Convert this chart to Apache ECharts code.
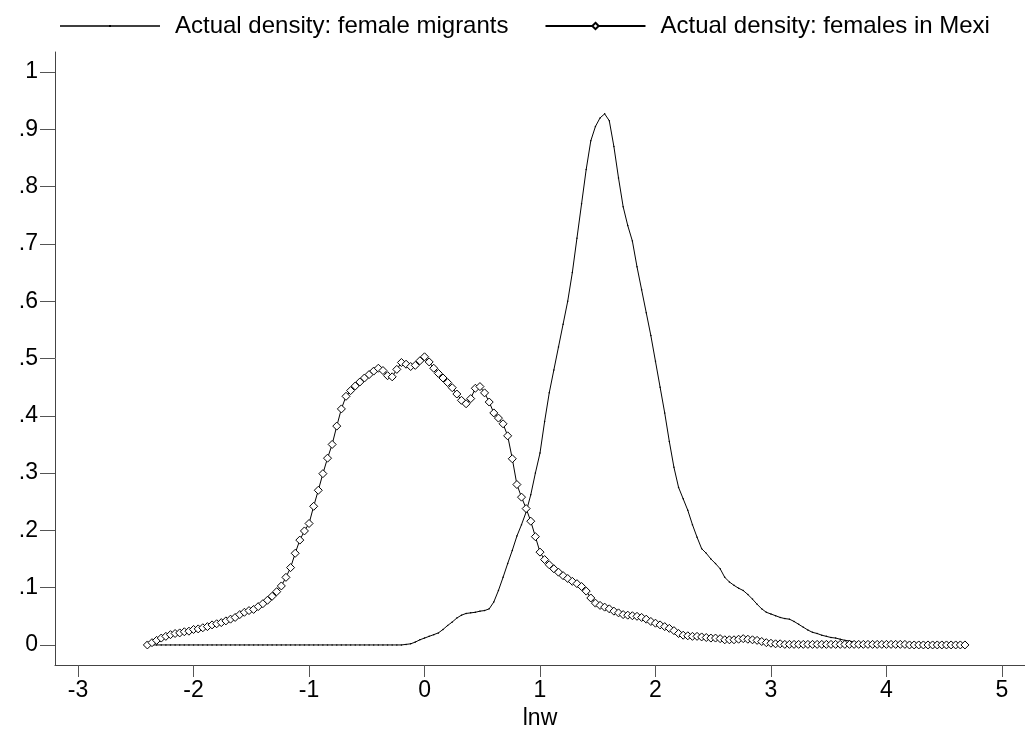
<!DOCTYPE html>
<html>
<head>
<meta charset="utf-8">
<script src="https://cdn.jsdelivr.net/npm/echarts@6/dist/echarts.min.js"></script>
<style>html,body{margin:0;padding:0;background:#fff}#c{width:1025px;height:730px}</style>
</head>
<body>
<div id="c"></div>
<script>
// lnw grid (x values shared by both densities), rows of 10
const lnw = [
 -2.40,-2.36,-2.32,-2.28,-2.24,-2.20,-2.16,-2.12,-2.08,-2.04,
 -2.00,-1.96,-1.92,-1.88,-1.84,-1.80,-1.76,-1.72,-1.68,-1.64,
 -1.60,-1.56,-1.52,-1.48,-1.44,-1.40,-1.36,-1.32,-1.28,-1.24,
 -1.20,-1.16,-1.12,-1.08,-1.04,-1.00,-0.96,-0.92,-0.88,-0.84,
 -0.80,-0.76,-0.72,-0.68,-0.64,-0.60,-0.56,-0.52,-0.48,-0.44,
 -0.40,-0.36,-0.32,-0.28,-0.24,-0.20,-0.16,-0.12,-0.08,-0.04,
 0.00,0.04,0.08,0.12,0.16,0.20,0.24,0.28,0.32,0.36,
 0.40,0.44,0.48,0.52,0.56,0.60,0.64,0.68,0.72,0.76,
 0.80,0.84,0.88,0.92,0.96,1.00,1.04,1.08,1.12,1.16,
 1.20,1.24,1.28,1.32,1.36,1.40,1.44,1.48,1.52,1.56,
 1.60,1.64,1.68,1.72,1.76,1.80,1.84,1.88,1.92,1.96,
 2.00,2.04,2.08,2.12,2.16,2.20,2.24,2.28,2.32,2.36,
 2.40,2.44,2.48,2.52,2.56,2.60,2.64,2.68,2.72,2.76,
 2.80,2.84,2.88,2.92,2.96,3.00,3.04,3.08,3.12,3.16,
 3.20,3.24,3.28,3.32,3.36,3.40,3.44,3.48,3.52,3.56,
 3.60,3.64,3.68,3.72,3.76,3.80,3.84,3.88,3.92,3.96,
 4.00,4.04,4.08,4.12,4.16,4.20,4.24,4.28,4.32,4.36,
 4.40,4.44,4.48,4.52,4.56,4.60,4.64,4.68
];
// Actual density: female migrants
const migrants = [
 0,0,0,0,0,0,0,0,0,0,
 0,0,0,0,0,0,0,0,0,0,
 0,0,0,0,0,0,0,0,0,0,
 0,0,0,0,0,0,0,0,0,0,
 0,0,0,0,0,0,0,0,0,0,
 0,0,0,0,0,0,0.001,0.002,0.005,0.009,
 0.012,0.015,0.018,0.021,0.027,0.034,0.040,0.047,0.052,0.055,
 0.056,0.057,0.059,0.060,0.063,0.075,0.095,0.118,0.142,0.165,
 0.190,0.210,0.232,0.262,0.300,0.335,0.390,0.440,0.480,0.520,
 0.560,0.600,0.650,0.710,0.770,0.830,0.880,0.905,0.920,0.927,
 0.915,0.870,0.815,0.765,0.732,0.705,0.660,0.620,0.580,0.540,
 0.495,0.450,0.405,0.355,0.310,0.275,0.255,0.235,0.210,0.188,
 0.168,0.160,0.150,0.142,0.133,0.118,0.110,0.104,0.099,0.095,
 0.088,0.080,0.071,0.063,0.057,0.054,0.051,0.048,0.046,0.045,
 0.041,0.036,0.031,0.026,0.022,0.020,0.017,0.015,0.013,0.012,
 0.010,0.008,0.007,0.005,0.004,0.003,0.003,0.002,0.002,0.001,
 0.001,0.001,0.001,0.001,0,0,0,0,0,0,
 0,0,0,0,0,0,0,0
];
// Actual density: females in Mexico
const mexico = [
 0.000,0.004,0.008,0.012,0.015,0.018,0.020,0.021,0.023,0.024,
 0.027,0.028,0.030,0.032,0.035,0.037,0.039,0.042,0.045,0.048,
 0.053,0.057,0.060,0.062,0.067,0.072,0.078,0.085,0.093,0.103,
 0.118,0.135,0.160,0.183,0.199,0.212,0.242,0.270,0.299,0.326,
 0.350,0.382,0.412,0.434,0.444,0.452,0.459,0.466,0.472,0.478,
 0.483,0.479,0.470,0.468,0.481,0.493,0.490,0.486,0.488,0.496,
 0.503,0.494,0.483,0.474,0.466,0.458,0.449,0.438,0.427,0.421,
 0.430,0.448,0.451,0.440,0.424,0.405,0.396,0.386,0.365,0.325,
 0.280,0.258,0.238,0.216,0.189,0.162,0.149,0.140,0.133,0.127,
 0.121,0.116,0.111,0.107,0.102,0.094,0.082,0.073,0.069,0.066,
 0.063,0.059,0.056,0.053,0.052,0.051,0.050,0.048,0.045,0.041,
 0.038,0.035,0.032,0.029,0.025,0.020,0.017,0.016,0.015,0.015,
 0.014,0.013,0.012,0.012,0.011,0.009,0.009,0.009,0.010,0.011,
 0.010,0.009,0.008,0.006,0.004,0.003,0.002,0.002,0.001,0.001,
 0.001,0.001,0.001,0.001,0.001,0.001,0.001,0.001,0.001,0.001,
 0.001,0.001,0.001,0.001,0.001,0.001,0.001,0.001,0.001,0.001,
 0.001,0.001,0.001,0.001,0.001,0.000,0.000,0.000,0.000,0.000,
 0.000,0.000,0.000,0.000,0.000,0.000,0.000,0.000
];
const xTicks = [-3,-2,-1,0,1,2,3,4,5];
const yTicks = [0,0.1,0.2,0.3,0.4,0.5,0.6,0.7,0.8,0.9,1];
const seriesNames = ['Actual density: female migrants','Actual density: females in Mexi'];

const FONT = 'Liberation Sans, Arial, Helvetica, sans-serif';
const chart = echarts.init(document.getElementById('c'), null, {renderer:'canvas'});
const pairs = ys => lnw.map((x,i)=>[x, ys[i]]);
const fmtY = v => { if (v===0) return '0'; if (Math.abs(v-1)<1e-9) return '1'; return String(Math.round(v*10)/10).replace(/^0/,''); };

chart.setOption({
  animation:false,
  backgroundColor:'#fff',
  textStyle:{fontFamily:FONT},
  legend:{
    left:55, top:9,
    itemWidth:100, itemHeight:8, itemGap:36,
    textStyle:{fontSize:24, color:'#000', fontFamily:FONT, padding:[0,0,0,10]},
    data:[
      {name:seriesNames[0], icon:'path://M0,0.3H100V1.7H0Z M49,0H51V2H49Z'},
      {name:seriesNames[1]}
    ]
  },
  grid:{left:55, right:0, top:52, bottom:65, containLabel:false, outerBoundsMode:'none'},
  xAxis:{
    type:'value', min:-3.2, max:5.2,
    name:'lnw', nameLocation:'middle', nameGap:38,
    nameTextStyle:{fontSize:23, color:'#000', fontFamily:FONT},
    axisLine:{show:true, onZero:false, lineStyle:{color:'#444', width:1}},
    axisTick:{show:true, inside:false, length:12, customValues:xTicks, lineStyle:{color:'#555'}},
    axisLabel:{customValues:xTicks, fontSize:23, color:'#000', margin:14, fontFamily:FONT},
    splitLine:{show:false}
  },
  yAxis:{
    type:'value', min:-0.035, max:1.035,
    axisLine:{show:true, onZero:false, lineStyle:{color:'#444', width:1}},
    axisTick:{show:true, inside:false, length:15, customValues:yTicks, lineStyle:{color:'#555'}},
    axisLabel:{customValues:yTicks, fontSize:23, color:'#000', margin:17, fontFamily:FONT, formatter:fmtY},
    splitLine:{show:false}
  },
  series:[
    {
      name:seriesNames[0], type:'line', data:pairs(migrants),
      symbol:'circle', symbolSize:1.5, showSymbol:true,
      lineStyle:{color:'#000', width:1},
      itemStyle:{color:'#000'},
      z:2
    },
    {
      name:seriesNames[1], type:'line', data:pairs(mexico),
      symbol:'diamond', symbolSize:8, showSymbol:true,
      lineStyle:{color:'#000', width:1},
      itemStyle:{color:'#fff', borderColor:'#000', borderWidth:1},
      z:3
    }
  ]
});
</script>
</body>
</html>
